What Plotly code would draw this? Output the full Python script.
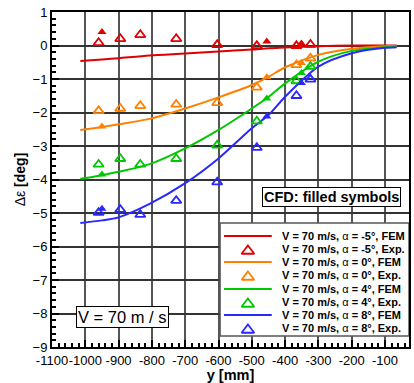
import plotly.graph_objects as go

# ---------------- data ----------------
fem_y = [-1015, -950, -900, -807, -700, -600, -500, -449, -400, -300, -200, -100, -65]
fem_m5 = [-0.46, -0.42, -0.38, -0.30, -0.24, -0.18, -0.12, -0.08, -0.06, -0.02, 0.0, 0.0, 0.0]
fem_0 = [-2.52, -2.43, -2.35, -2.19, -1.88, -1.55, -1.18, -0.93, -0.65, -0.28, -0.10, -0.02, -0.02]
fem_4 = [-3.98, -3.87, -3.77, -3.54, -3.07, -2.52, -1.88, -1.53, -1.13, -0.48, -0.16, -0.05, -0.03]
fem_8 = [-5.30, -5.22, -5.13, -4.73, -4.11, -3.37, -2.47, -2.07, -1.53, -0.63, -0.23, -0.07, -0.05]

exp_y = [-960, -895, -835, -727, -604, -485, -366, -324]
exp_m5 = [0.08, 0.20, 0.32, 0.20, 0.02, -0.01, -0.01, 0.03]
exp_0 = [-1.95, -1.88, -1.80, -1.76, -1.71, -1.25, -0.58, -0.38]
exp_4 = [-3.55, -3.38, -3.55, -3.38, -2.98, -2.26, -1.06, -0.63]
exp_8 = [-4.99, -4.90, -5.05, -4.63, -4.08, -3.05, -1.50, -1.01]

cfd_y = [-950, -455, -351]
cfd_m5 = [0.40, 0.12, 0.06]
cfd_0 = [-2.42, -0.95, -0.52]
cfd_4 = [-3.85, -1.58, -0.82]
cfd_8 = [-4.87, -2.12, -1.12]

alphas = ["-5", "0", "4", "8"]
colors = ["#e00000", "#ff8000", "#00c800", "#2828ff"]
fem_sets = [fem_m5, fem_0, fem_4, fem_8]
exp_sets = [exp_m5, exp_0, exp_4, exp_8]
cfd_sets = [cfd_m5, cfd_0, cfd_4, cfd_8]

x_ticks = list(range(-1100, 0, 100))
y_ticks = list(range(-9, 2, 1))

FONT = "Liberation Sans, Arial, sans-serif"

fig = go.Figure()

for vals, col in zip(fem_sets, colors):
    fig.add_trace(go.Scatter(x=fem_y, y=vals, mode="lines", line=dict(color=col, width=2, shape="spline", smoothing=0.8),
                             showlegend=False, hoverinfo="skip"))
for vals, col in zip(exp_sets, colors):
    fig.add_trace(go.Scatter(x=exp_y, y=vals, mode="markers",
                             marker=dict(symbol="triangle-up-open", size=9, color=col, line=dict(color=col, width=1.8)),
                             showlegend=False))
for vals, col in zip(cfd_sets, colors):
    fig.add_trace(go.Scatter(x=cfd_y, y=vals, mode="markers",
                             marker=dict(symbol="triangle-up", size=8, color=col, line=dict(width=0)),
                             showlegend=False))

W, H = 414, 383
# plot area in pixels
L, R, T, B = 52, 411, 12, 347
def px(xp):
    return (xp - L) / (R - L)
def py(yp):
    return (B - yp) / (B - T)

box_x = [px(221), px(411), px(411), px(221), px(221)]
box_y = [py(223), py(223), py(336), py(336), py(223)]
fig.add_trace(go.Scatter(x=box_x, y=box_y, xaxis="x2", yaxis="y2", mode="lines", fill="toself",
                         fillcolor="white", line=dict(color="#555555", width=1.5), showlegend=False, hoverinfo="skip"))

line_rows = [236, 262, 289, 315]
mark_rows = [249, 275, 302, 328]
for i, col in enumerate(colors):
    fig.add_trace(go.Scatter(x=[px(225), px(273)], y=[py(line_rows[i])] * 2, xaxis="x2", yaxis="y2",
                             mode="lines", line=dict(color=col, width=2), showlegend=False, hoverinfo="skip"))
    fig.add_trace(go.Scatter(x=[px(249)], y=[py(mark_rows[i]) - 0.006], xaxis="x2", yaxis="y2", mode="markers",
                             marker=dict(symbol="triangle-up-open", size=11, color=col, line=dict(color=col, width=1.8)),
                             showlegend=False, hoverinfo="skip"))
    for kind, row in (("FEM", line_rows[i]), ("Exp.", mark_rows[i])):
        fig.add_annotation(xref="paper", yref="paper", x=px(281), y=py(row), xanchor="left", yanchor="middle",
                           showarrow=False,
                           text=f"<b>V = 70 m/s, </b>α<b> = {alphas[i]}°, {kind}</b>",
                           font=dict(family=FONT, size=11, color="black"))

fig.add_annotation(xref="paper", yref="paper", x=px(333.5), y=py(196.5), xanchor="center", yanchor="middle",
                   showarrow=False, text="<b>CFD: filled symbols</b>",
                   font=dict(family=FONT, size=14.5, color="black"),
                   bgcolor="white", bordercolor="black", borderwidth=1, borderpad=1)
fig.add_annotation(xref="paper", yref="paper", x=px(122.5), y=py(316.5), xanchor="center", yanchor="middle",
                   showarrow=False, text="V = 70 m / s",
                   font=dict(family=FONT, size=16.5, color="black"),
                   bgcolor="white", bordercolor="black", borderwidth=1, borderpad=1)

fig.update_layout(
    width=W, height=H,
    margin=dict(l=L, r=W - R, t=T, b=H - B),
    paper_bgcolor="white", plot_bgcolor="white",
    font=dict(family=FONT, size=13, color="black"),
    xaxis=dict(range=[-1100, -28], tickvals=x_ticks, ticktext=[str(v) for v in x_ticks], tickangle=0,
               showgrid=True, gridcolor="#555555", gridwidth=1.5,
               showline=True, linecolor="black", linewidth=2, mirror=True,
               ticks="inside", ticklen=7, tickwidth=1.5, tickcolor="black",
               minor=dict(dtick=20, tick0=-1100, ticks="inside", ticklen=4, tickcolor="black", showgrid=False),
               zeroline=False, tickfont=dict(size=13), ticklabeloverflow="allow",
               title=dict(text="<b>y [mm]</b>", font=dict(size=14.5), standoff=0)),
    yaxis=dict(range=[-9, 1], tickvals=y_ticks, showgrid=True, gridcolor="#333333", gridwidth=1.5,
               showline=True, linecolor="black", linewidth=2, mirror=True,
               ticks="inside", ticklen=7, tickwidth=1.5, tickcolor="black",
               minor=dict(dtick=0.2, tick0=-9, ticks="inside", ticklen=4, tickcolor="black", showgrid=False),
               zeroline=False, tickfont=dict(size=13), ticklabeloverflow="allow",
               title=dict(text="Δε <b>[deg]</b>", font=dict(size=14), standoff=4)),
    xaxis2=dict(overlaying="x", range=[0, 1], visible=False, fixedrange=True),
    yaxis2=dict(overlaying="y", range=[0, 1], visible=False, fixedrange=True),
)

fig.write_html("out.html", config={"displayModeBar": False},
               post_script="document.body.style.margin='0px';")
